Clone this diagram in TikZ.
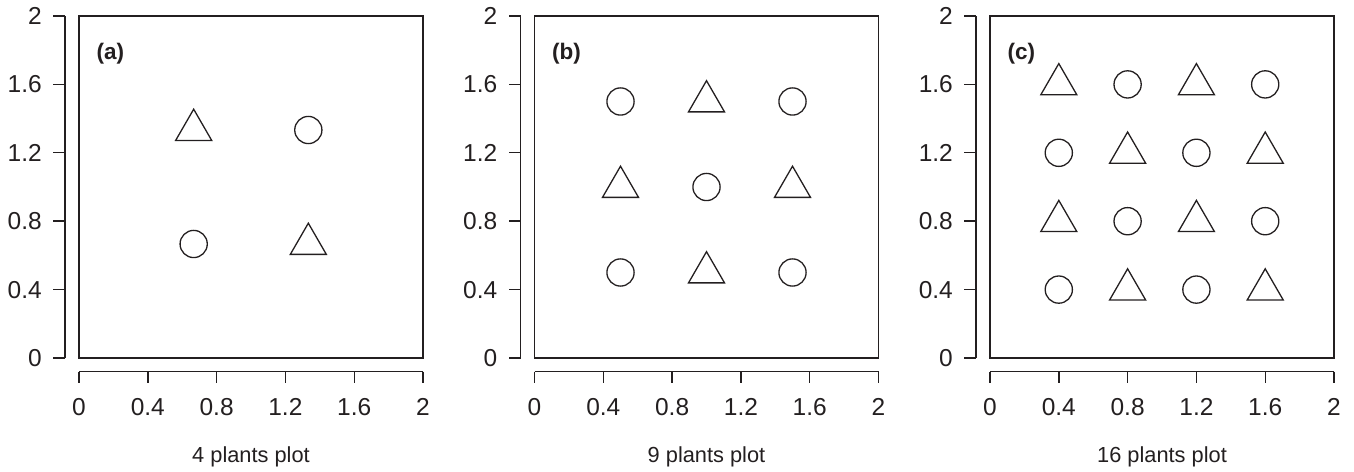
\documentclass[tikz,border=0pt]{standalone}
\usepackage{fontspec}
\setmainfont{Liberation Sans}
\definecolor{ink}{RGB}{35,31,32}
\tikzset{
  mk/.style={line width=1.3pt, draw=ink, line join=miter},
  ax/.style={line width=1.4pt, draw=ink},
  ticklab/.style={text=ink, font=\fontsize{24.5}{28}\selectfont, inner sep=0pt},
  ttl/.style={text=ink, font=\fontsize{21.8}{26}\selectfont, inner sep=0pt},
  tag/.style={text=ink, font=\fontsize{22.5}{26}\selectfont\bfseries, inner sep=0pt, anchor=west},
}
\newcommand\tri[2]{\draw[mk] (#1,#2) +(90:20.8pt) -- +(210:20.8pt) -- +(330:20.8pt) -- cycle;}
\newcommand\cir[2]{\draw[mk] (#1,#2) circle[radius=13.6pt];}
\newcommand\panelframe[3]{%
  \draw[ax] (0,0) rectangle (2,2);
  \draw[ax, xshift=-14pt] (0,0) -- (0,2);
  \foreach \v/\l in {0/0,0.4/0.4,0.8/0.8,1.2/1.2,1.6/1.6,2/2} {
    \draw[ax, xshift=-14pt] (0,\v) -- ++(-12pt,0);
    \node[ticklab, anchor=east, xshift=-37pt] (yl#1\l) at (0,\v) {\l};
  }
  \draw[ax, yshift=-13.7pt] (0,0) -- (2,0);
  \foreach \v/\l in {0/0,0.4/0.4,0.8/0.8,1.2/1.2,1.6/1.6,2/2} {
    \draw[ax, yshift=-13.7pt] (\v,0) -- ++(0,-11.5pt);
    \node[ticklab, yshift=-49pt] (xl#1\l) at (\v,0) {\l};
  }
  \node[tag] (tag#1) at ([xshift=17.5pt,yshift=-37.5pt]0,2) {(#2)};
  \node[ttl] (ttl#1) at ([yshift=-98.7pt]1,0) {#3};
}
\begin{document}
\begin{tikzpicture}[x=1pt,y=1pt]
\useasboundingbox (0,0) rectangle (1354,471);
% panel a
\begin{scope}[shift={(79,113)}, x=172pt, y=171pt]
  \panelframe{a}{a}{4 plants plot}
  \tri{0.6667}{1.3333}
  \cir{1.3333}{1.3333}
  \cir{0.6667}{0.6667}
  \tri{1.3333}{0.6667}
\end{scope}
% panel b
\begin{scope}[shift={(534.5,113)}, x=172pt, y=171pt]
  \panelframe{b}{b}{9 plants plot}
  \cir{0.5}{1.5} \tri{1}{1.5} \cir{1.5}{1.5}
  \tri{0.5}{1} \cir{1}{1} \tri{1.5}{1}
  \cir{0.5}{0.5} \tri{1}{0.5} \cir{1.5}{0.5}
\end{scope}
% panel c
\begin{scope}[shift={(990,113)}, x=172pt, y=171pt]
  \panelframe{c}{c}{16 plants plot}
  \tri{0.4}{1.6} \cir{0.8}{1.6} \tri{1.2}{1.6} \cir{1.6}{1.6}
  \cir{0.4}{1.2} \tri{0.8}{1.2} \cir{1.2}{1.2} \tri{1.6}{1.2}
  \tri{0.4}{0.8} \cir{0.8}{0.8} \tri{1.2}{0.8} \cir{1.6}{0.8}
  \cir{0.4}{0.4} \tri{0.8}{0.4} \cir{1.2}{0.4} \tri{1.6}{0.4}
\end{scope}
\end{tikzpicture}
\end{document}
